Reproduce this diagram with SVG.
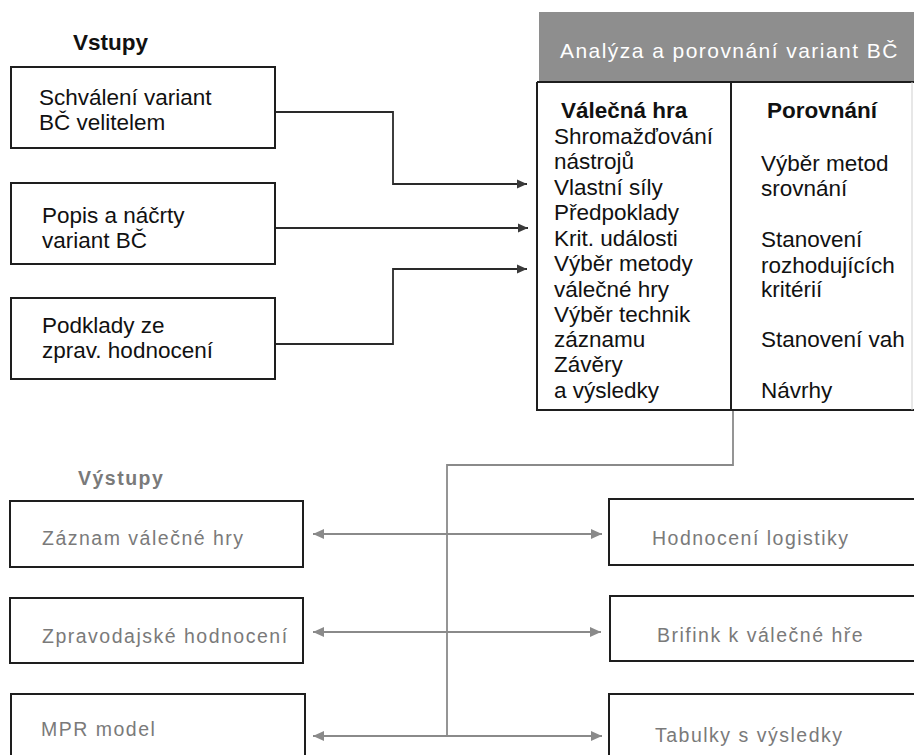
<svg xmlns="http://www.w3.org/2000/svg" width="914" height="755" viewBox="0 0 914 755">
<defs>
<style>
.box{fill:#fff;stroke:#1e1e1e;stroke-width:2}
.t{font-family:"Liberation Sans",Arial,sans-serif;font-size:22.5px;fill:#111}
.b{font-weight:bold}
.g{font-family:"Liberation Sans",Arial,sans-serif;font-size:19.5px;fill:#7a7a7a;letter-spacing:1.5px}
.in{fill:none;stroke:#2a2a2a;stroke-width:1.8}
.out{fill:none;stroke:#8a8a8a;stroke-width:1.8}
</style>
<marker id="ah" viewBox="0 0 10 10" refX="10" refY="5" markerWidth="10" markerHeight="10" markerUnits="userSpaceOnUse" orient="auto-start-reverse">
<path d="M0,0.5 L10,5 L0,9.5 Z" fill="#3a3a3a"/>
</marker>
<marker id="ag" viewBox="0 0 10 10" refX="10" refY="5" markerWidth="11" markerHeight="11" markerUnits="userSpaceOnUse" orient="auto-start-reverse">
<path d="M0,0.5 L10,5 L0,9.5 Z" fill="#8a8a8a"/>
</marker>
</defs>
<rect width="914" height="755" fill="#fff"/>

<text class="t b" x="73" y="50" font-size="21">Vstupy</text>
<text class="g b" x="78" y="485" font-size="20">Výstupy</text>

<g id="connectors">
<path class="in" d="M275,112 H393 V184 H527" marker-end="url(#ah)"/>
<path class="in" d="M275,228 H528" marker-end="url(#ah)"/>
<path class="in" d="M275,344 H393 V269 H527" marker-end="url(#ah)"/>
<path class="out" d="M733,410 V465 H447 V736"/>
<path class="out" d="M313,534 H602" marker-start="url(#ag)" marker-end="url(#ag)"/>
<path class="out" d="M313,632 H601" marker-start="url(#ag)" marker-end="url(#ag)"/>
<path class="out" d="M313,736 H602" marker-start="url(#ag)" marker-end="url(#ag)"/>
</g>

<g id="in1">
<rect class="box" x="11" y="67" width="264" height="81"/>
<text class="t" x="39" y="105">Schválení variant</text>
<text class="t" x="39" y="130">BČ velitelem</text>
</g>
<g id="in2">
<rect class="box" x="11" y="183" width="264" height="81"/>
<text class="t" x="42" y="223">Popis a náčrty</text>
<text class="t" x="42" y="248">variant BČ</text>
</g>
<g id="in3">
<rect class="box" x="11" y="298" width="264" height="81"/>
<text class="t" x="42" y="333">Podklady ze</text>
<text class="t" x="42" y="358">zprav. hodnocení</text>
</g>

<g id="main">
<rect x="539" y="12" width="376" height="70" fill="#8e8e8e"/>
<text x="560" y="58" font-family="Liberation Sans, Arial, sans-serif" font-size="21" fill="#fff" letter-spacing="1.45">Analýza a porovnání variant BČ</text>
<path d="M537,82 H914 M537,82 V410 H914" fill="none" stroke="#1e1e1e" stroke-width="2"/>
<line x1="912" y1="82" x2="912" y2="410" stroke="#cfcfcf" stroke-width="1"/>
<line x1="731" y1="82" x2="731" y2="410" stroke="#1e1e1e" stroke-width="2"/>
<text class="t b" x="561" y="118">Válečná hra</text>
<text class="t" x="554" y="144">Shromažďování</text>
<text class="t" x="554" y="169">nástrojů</text>
<text class="t" x="554" y="195">Vlastní síly</text>
<text class="t" x="554" y="220">Předpoklady</text>
<text class="t" x="554" y="246">Krit. události</text>
<text class="t" x="554" y="271">Výběr metody</text>
<text class="t" x="554" y="297">válečné hry</text>
<text class="t" x="554" y="322">Výběr technik</text>
<text class="t" x="554" y="347">záznamu</text>
<text class="t" x="554" y="372">Závěry</text>
<text class="t" x="554" y="398">a výsledky</text>
<text class="t b" x="767" y="118">Porovnání</text>
<text class="t" x="761" y="171">Výběr metod</text>
<text class="t" x="761" y="196">srovnání</text>
<text class="t" x="761" y="247">Stanovení</text>
<text class="t" x="761" y="273">rozhodujících</text>
<text class="t" x="761" y="297">kritérií</text>
<text class="t" x="761" y="347">Stanovení vah</text>
<text class="t" x="761" y="398">Návrhy</text>
</g>

<g id="out1">
<rect class="box" x="10" y="501" width="293" height="66"/>
<text class="g" x="42" y="545">Záznam válečné hry</text>
</g>
<g id="out2">
<rect class="box" x="10" y="598" width="293" height="65"/>
<text class="g" x="42" y="643">Zpravodajské hodnocení</text>
</g>
<g id="out3">
<rect class="box" x="11" y="694" width="294" height="70"/>
<text class="g" x="41" y="736">MPR model</text>
</g>
<g id="out4">
<rect class="box" x="609" y="499" width="310" height="66"/>
<text class="g" x="652" y="545">Hodnocení logistiky</text>
</g>
<g id="out5">
<rect class="box" x="610" y="596" width="310" height="65"/>
<text class="g" x="657" y="642">Brifink k válečné hře</text>
</g>
<g id="out6">
<rect class="box" x="609" y="694" width="310" height="70"/>
<text class="g" x="655" y="742">Tabulky s výsledky</text>
</g>
</svg>
